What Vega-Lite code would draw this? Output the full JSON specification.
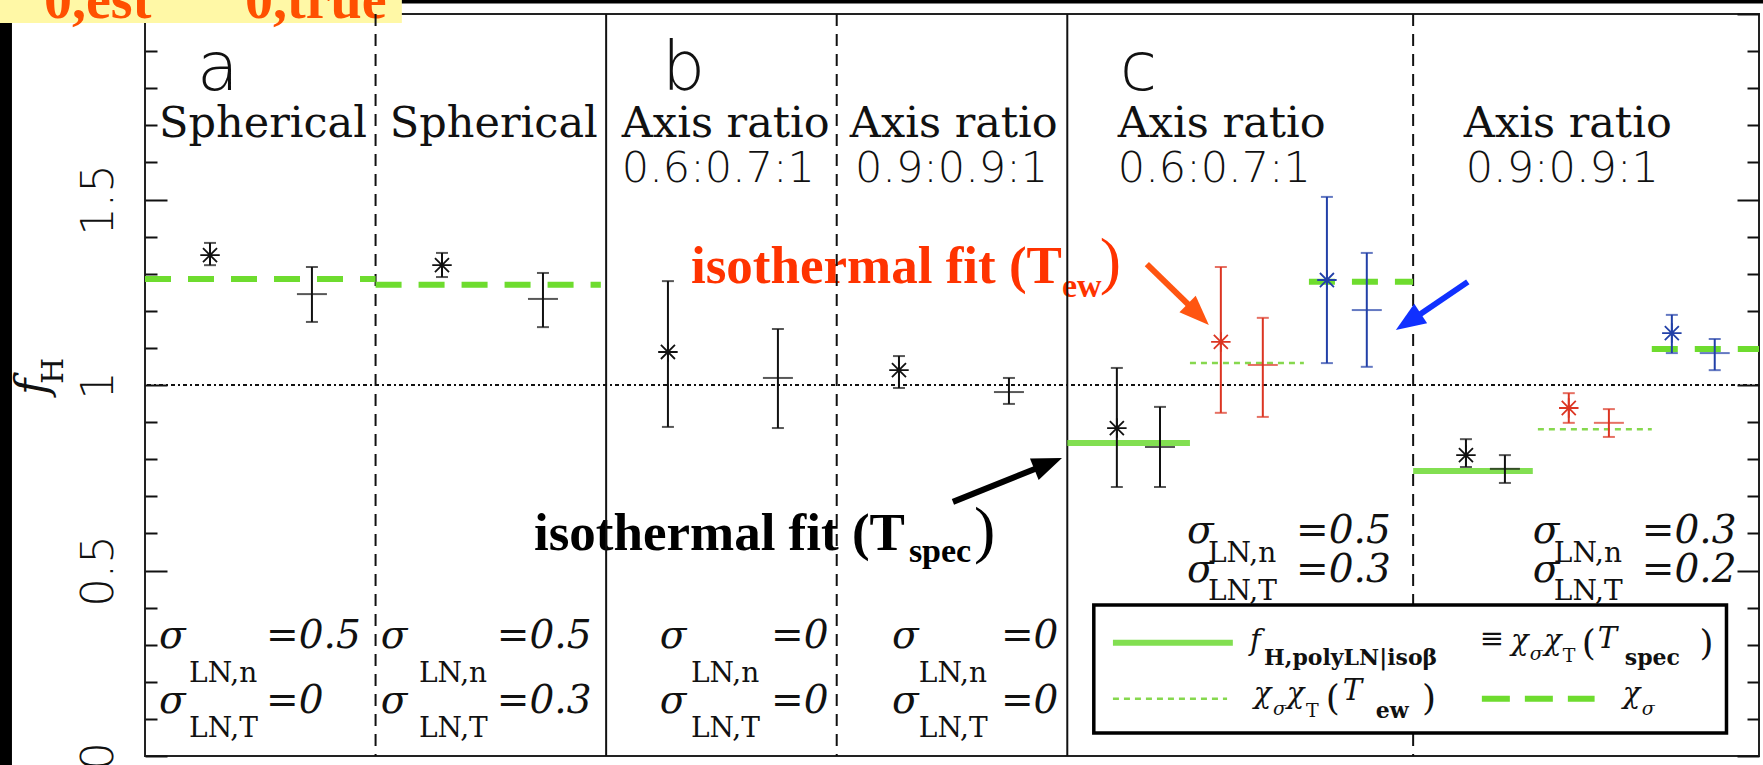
{
"$schema": "https://vega.github.io/schema/vega-lite/v6.json",
"width": 1614, "height": 742,
"autosize": {"type": "none"},
"padding": {"left": 145, "top": 14, "right": 4, "bottom": 9},
"background": "white",
"config": {"view": {"stroke": "#222222", "strokeWidth": 2}},
"datasets": {
"pts": [
{"x":0.282,"y":1.350,"lo":1.323,"hi":1.383,"kind":"asterisk","est":"Tspec"},
{"x":0.724,"y":1.245,"lo":1.170,"hi":1.318,"kind":"cross","est":"Tspec"},
{"x":1.288,"y":1.323,"lo":1.291,"hi":1.356,"kind":"asterisk","est":"Tspec"},
{"x":1.726,"y":1.232,"lo":1.156,"hi":1.302,"kind":"cross","est":"Tspec"},
{"x":2.268,"y":1.089,"lo":0.887,"hi":1.280,"kind":"asterisk","est":"Tspec"},
{"x":2.745,"y":1.019,"lo":0.884,"hi":1.151,"kind":"cross","est":"Tspec"},
{"x":3.270,"y":1.040,"lo":0.992,"hi":1.078,"kind":"asterisk","est":"Tspec"},
{"x":3.747,"y":0.981,"lo":0.949,"hi":1.019,"kind":"cross","est":"Tspec"},
{"x":4.215,"y":0.884,"lo":0.725,"hi":1.046,"kind":"asterisk","est":"Tspec"},
{"x":4.402,"y":0.833,"lo":0.725,"hi":0.941,"kind":"cross","est":"Tspec"},
{"x":4.666,"y":1.116,"lo":0.925,"hi":1.318,"kind":"asterisk","est":"Tew"},
{"x":4.848,"y":1.054,"lo":0.914,"hi":1.181,"kind":"cross","est":"Tew"},
{"x":5.126,"y":1.283,"lo":1.059,"hi":1.507,"kind":"asterisk","est":"chi"},
{"x":5.299,"y":1.202,"lo":1.049,"hi":1.356,"kind":"cross","est":"chi"},
{"x":5.729,"y":0.811,"lo":0.779,"hi":0.854,"kind":"asterisk","est":"Tspec"},
{"x":5.898,"y":0.774,"lo":0.736,"hi":0.811,"kind":"cross","est":"Tspec"},
{"x":6.175,"y":0.938,"lo":0.898,"hi":0.978,"kind":"asterisk","est":"Tew"},
{"x":6.349,"y":0.898,"lo":0.860,"hi":0.935,"kind":"cross","est":"Tew"},
{"x":6.622,"y":1.140,"lo":1.086,"hi":1.189,"kind":"asterisk","est":"chi"},
{"x":6.808,"y":1.086,"lo":1.040,"hi":1.124,"kind":"cross","est":"chi"}
],
"green": [
{"x":0,"x2":1,"y":1.286,"model":"sigma"},
{"x":1,"x2":1.977,"y":1.270,"model":"sigma"},
{"x":4.0,"x2":4.532,"y":0.844,"model":"polyLN"},
{"x":4.532,"x2":5.026,"y":1.059,"model":"ew"},
{"x":5.048,"x2":5.5,"y":1.278,"model":"sigma"},
{"x":5.5,"x2":6.019,"y":0.768,"model":"polyLN"},
{"x":6.041,"x2":6.535,"y":0.881,"model":"ew"},
{"x":6.535,"x2":7.0,"y":1.097,"model":"sigma"}
],
"greenleg": [
{"x":4.198,"x2":4.718,"y":0.305,"model":"polyLN"},
{"x":4.198,"x2":4.693,"y":0.154,"model":"ew"},
{"x":5.798,"x2":6.287,"y":0.154,"model":"sigma"}
],
"seps": [
{"x":1,"type":"dashed"},{"x":3,"type":"dashed"},{"x":5.5,"type":"dashed"},
{"x":2,"type":"solid"},{"x":4,"type":"solid"}
],
"ref": [{"y":1}],
"boxes": [
{"x":-0.629,"x2":1.114,"y":2.04,"y2":1.976,"what":"yellow"},
{"x":1.114,"x2":7.02,"y":2.04,"y2":2.028,"what":"black"},
{"x":-0.629,"x2":-0.577,"y":1.976,"y2":-0.03,"what":"black"}
],
"legbox": [{"x":4.115,"x2":6.859,"y":0.407,"y2":0.062}],
"arrows": [
{"who":"Tew","x":4.345,"y":1.326,"x2":4.540,"y2":1.208,"tx":4.614,"ty":1.162},
{"who":"chi","x":5.737,"y":1.278,"x2":5.512,"y2":1.183,"tx":5.425,"ty":1.148},
{"who":"Tspec","x":3.504,"y":0.685,"x2":3.881,"y2":0.779,"tx":3.977,"ty":0.803}
],
"txt": [
{"x":0.225,"y":1.795,"text":"a","role":"panel"},
{"x":2.242,"y":1.795,"text":"b","role":"panel"},
{"x":4.228,"y":1.795,"text":"c","role":"panel"},
{"x":0.061,"y":1.668,"text":"Spherical","role":"geom"},
{"x":1.062,"y":1.668,"text":"Spherical","role":"geom"},
{"x":2.068,"y":1.668,"text":"Axis ratio","role":"geom"},
{"x":3.057,"y":1.668,"text":"Axis ratio","role":"geom"},
{"x":4.219,"y":1.668,"text":"Axis ratio","role":"geom"},
{"x":5.720,"y":1.668,"text":"Axis ratio","role":"geom"},
{"x":2.068,"y":1.547,"text":"0.6:0.7:1","role":"ratio"},
{"x":3.079,"y":1.547,"text":"0.9:0.9:1","role":"ratio"},
{"x":4.219,"y":1.547,"text":"0.6:0.7:1","role":"ratio"},
{"x":5.728,"y":1.547,"text":"0.9:0.9:1","role":"ratio"},
{"x":0.061,"y":0.291,"text":"σ","role":"sig"},
{"x":0.525,"y":0.291,"text":"=0.5","role":"sig"},
{"x":0.061,"y":0.116,"text":"σ","role":"sig"},
{"x":0.525,"y":0.116,"text":"=0","role":"sig"},
{"x":1.023,"y":0.291,"text":"σ","role":"sig"},
{"x":1.526,"y":0.291,"text":"=0.5","role":"sig"},
{"x":1.023,"y":0.116,"text":"σ","role":"sig"},
{"x":1.526,"y":0.116,"text":"=0.3","role":"sig"},
{"x":2.233,"y":0.291,"text":"σ","role":"sig"},
{"x":2.715,"y":0.291,"text":"=0","role":"sig"},
{"x":2.233,"y":0.116,"text":"σ","role":"sig"},
{"x":2.715,"y":0.116,"text":"=0","role":"sig"},
{"x":3.240,"y":0.291,"text":"σ","role":"sig"},
{"x":3.712,"y":0.291,"text":"=0","role":"sig"},
{"x":3.240,"y":0.116,"text":"σ","role":"sig"},
{"x":3.712,"y":0.116,"text":"=0","role":"sig"},
{"x":4.519,"y":0.575,"text":"σ","role":"sig"},
{"x":4.992,"y":0.575,"text":"=0.5","role":"sig"},
{"x":4.519,"y":0.469,"text":"σ","role":"sig"},
{"x":4.992,"y":0.469,"text":"=0.3","role":"sig"},
{"x":6.019,"y":0.575,"text":"σ","role":"sig"},
{"x":6.492,"y":0.575,"text":"=0.3","role":"sig"},
{"x":6.019,"y":0.469,"text":"σ","role":"sig"},
{"x":6.492,"y":0.469,"text":"=0.2","role":"sig"},
{"x":0.191,"y":0.199,"text":"LN,n","role":"sigsub"},
{"x":0.191,"y":0.051,"text":"LN,T","role":"sigsub"},
{"x":1.188,"y":0.199,"text":"LN,n","role":"sigsub"},
{"x":1.188,"y":0.051,"text":"LN,T","role":"sigsub"},
{"x":2.368,"y":0.199,"text":"LN,n","role":"sigsub"},
{"x":2.368,"y":0.051,"text":"LN,T","role":"sigsub"},
{"x":3.356,"y":0.199,"text":"LN,n","role":"sigsub"},
{"x":3.356,"y":0.051,"text":"LN,T","role":"sigsub"},
{"x":4.610,"y":0.523,"text":"LN,n","role":"sigsub"},
{"x":4.610,"y":0.420,"text":"LN,T","role":"sigsub"},
{"x":6.110,"y":0.523,"text":"LN,n","role":"sigsub"},
{"x":6.110,"y":0.420,"text":"LN,T","role":"sigsub"},
{"x":-0.425,"y":0.995,"text":"f","role":"yt"},
{"x":-0.356,"y":1.038,"text":"H","role":"ytsub"},
{"x":-0.438,"y":1.989,"text":"0,est","role":"corner"},
{"x":0.434,"y":1.989,"text":"0,true","role":"corner"},
{"x":2.368,"y":1.275,"text":"isothermal fit (T","role":"annR"},
{"x":3.977,"y":1.237,"text":"ew","role":"annRsub"},
{"x":4.141,"y":1.278,"text":")","role":"annRp"},
{"x":1.687,"y":0.555,"text":"isothermal fit (T","role":"annK"},
{"x":3.313,"y":0.523,"text":"spec","role":"annKsub"},
{"x":3.595,"y":0.553,"text":")","role":"annKp"}
],
"legtxt": [
{"x":4.792,"y":0.286,"text":"f","role":"leg"},
{"x":4.853,"y":0.245,"text":"H,polyLN|isoβ","role":"legsubb"},
{"x":5.789,"y":0.291,"text":"≡","role":"legn"},
{"x":5.924,"y":0.286,"text":"χ","role":"leg"},
{"x":6.006,"y":0.259,"text":"σ","role":"legsub"},
{"x":6.067,"y":0.286,"text":"χ","role":"leg"},
{"x":6.149,"y":0.253,"text":"T","role":"legsubr"},
{"x":6.231,"y":0.272,"text":"(","role":"legp"},
{"x":6.301,"y":0.291,"text":"T","role":"leg"},
{"x":6.418,"y":0.245,"text":"spec","role":"legsubb"},
{"x":6.742,"y":0.272,"text":")","role":"legp"},
{"x":4.809,"y":0.143,"text":"χ","role":"leg"},
{"x":4.892,"y":0.111,"text":"σ","role":"legsub"},
{"x":4.952,"y":0.143,"text":"χ","role":"leg"},
{"x":5.035,"y":0.105,"text":"T","role":"legsubr"},
{"x":5.121,"y":0.124,"text":"(","role":"legp"},
{"x":5.195,"y":0.151,"text":"T","role":"leg"},
{"x":5.338,"y":0.102,"text":"ew","role":"legsubb"},
{"x":5.538,"y":0.124,"text":")","role":"legp"},
{"x":6.409,"y":0.143,"text":"χ","role":"leg"},
{"x":6.492,"y":0.111,"text":"σ","role":"legsub"}
]
},
"resolve": {"axis": {"y": "independent"}},
"layer": [
{"data": {"name": "boxes"}, "transform": [{"filter": "datum.what == 'yellow'"}],
 "mark": {"type": "rect", "color": "#FFF8A6"},
 "encoding": {"x": {"field": "x", "type": "quantitative", "scale": {"domain": [0, 7], "nice": false, "zero": false}, "axis": null}, "x2": {"field": "x2"},
  "y": {"field": "y", "type": "quantitative", "scale": {"domain": [0, 2], "nice": false, "zero": false}, "axis": null}, "y2": {"field": "y2"}}},
{"data": {"name": "boxes"}, "transform": [{"filter": "datum.what == 'black'"}],
 "mark": {"type": "rect", "color": "#000000"},
 "encoding": {"x": {"field": "x", "type": "quantitative", "scale": {"domain": [0, 7], "nice": false, "zero": false}, "axis": null}, "x2": {"field": "x2"},
  "y": {"field": "y", "type": "quantitative", "scale": {"domain": [0, 2], "nice": false, "zero": false}, "axis": null}, "y2": {"field": "y2"}}},
{"data": {"name": "txt"}, "transform": [{"filter": "datum.role == 'corner'"}],
 "mark": {"type": "text", "align": "left", "baseline": "alphabetic", "font": "Liberation Serif", "fontWeight": "bold", "fontSize": 56, "color": "#FF5000"},
 "encoding": {"x": {"field": "x", "type": "quantitative", "scale": {"domain": [0, 7], "nice": false, "zero": false}, "axis": null},
  "y": {"field": "y", "type": "quantitative", "scale": {"domain": [0, 2], "nice": false, "zero": false}, "axis": null}, "text": {"field": "text"}}},
{"data": {"name": "txt"}, "transform": [{"filter": "datum.role == 'annR'"}],
 "mark": {"type": "text", "align": "left", "baseline": "alphabetic", "font": "Liberation Serif", "fontWeight": "bold", "fontSize": 53, "color": "#FF3300"},
 "encoding": {"x": {"field": "x", "type": "quantitative", "scale": {"domain": [0, 7], "nice": false, "zero": false}, "axis": null},
  "y": {"field": "y", "type": "quantitative", "scale": {"domain": [0, 2], "nice": false, "zero": false}, "axis": null}, "text": {"field": "text"}}},
{"data": {"name": "txt"}, "transform": [{"filter": "datum.role == 'annRsub'"}],
 "mark": {"type": "text", "align": "left", "baseline": "alphabetic", "font": "Liberation Serif", "fontWeight": "bold", "fontSize": 34, "color": "#FF3300"},
 "encoding": {"x": {"field": "x", "type": "quantitative", "scale": {"domain": [0, 7], "nice": false, "zero": false}, "axis": null},
  "y": {"field": "y", "type": "quantitative", "scale": {"domain": [0, 2], "nice": false, "zero": false}, "axis": null}, "text": {"field": "text"}}},
{"data": {"name": "txt"}, "transform": [{"filter": "datum.role == 'annRp'"}],
 "mark": {"type": "text", "align": "left", "baseline": "alphabetic", "font": "Liberation Serif", "fontSize": 64, "color": "#FF3300"},
 "encoding": {"x": {"field": "x", "type": "quantitative", "scale": {"domain": [0, 7], "nice": false, "zero": false}, "axis": null},
  "y": {"field": "y", "type": "quantitative", "scale": {"domain": [0, 2], "nice": false, "zero": false}, "axis": null}, "text": {"field": "text"}}},
{"data": {"name": "txt"}, "transform": [{"filter": "datum.role == 'annK'"}],
 "mark": {"type": "text", "align": "left", "baseline": "alphabetic", "font": "Liberation Serif", "fontWeight": "bold", "fontSize": 53, "color": "#000000"},
 "encoding": {"x": {"field": "x", "type": "quantitative", "scale": {"domain": [0, 7], "nice": false, "zero": false}, "axis": null},
  "y": {"field": "y", "type": "quantitative", "scale": {"domain": [0, 2], "nice": false, "zero": false}, "axis": null}, "text": {"field": "text"}}},
{"data": {"name": "txt"}, "transform": [{"filter": "datum.role == 'annKsub'"}],
 "mark": {"type": "text", "align": "left", "baseline": "alphabetic", "font": "Liberation Serif", "fontWeight": "bold", "fontSize": 34, "color": "#000000"},
 "encoding": {"x": {"field": "x", "type": "quantitative", "scale": {"domain": [0, 7], "nice": false, "zero": false}, "axis": null},
  "y": {"field": "y", "type": "quantitative", "scale": {"domain": [0, 2], "nice": false, "zero": false}, "axis": null}, "text": {"field": "text"}}},
{"data": {"name": "txt"}, "transform": [{"filter": "datum.role == 'annKp'"}],
 "mark": {"type": "text", "align": "left", "baseline": "alphabetic", "font": "Liberation Serif", "fontSize": 64, "color": "#000000"},
 "encoding": {"x": {"field": "x", "type": "quantitative", "scale": {"domain": [0, 7], "nice": false, "zero": false}, "axis": null},
  "y": {"field": "y", "type": "quantitative", "scale": {"domain": [0, 2], "nice": false, "zero": false}, "axis": null}, "text": {"field": "text"}}},
{"data": {"name": "seps"}, "transform": [{"filter": "datum.type == 'solid'"}],
 "mark": {"type": "rule", "color": "#111111", "strokeWidth": 2},
 "encoding": {"x": {"field": "x", "type": "quantitative", "scale": {"domain": [0, 7], "nice": false, "zero": false}, "axis": null}}},
{"data": {"name": "seps"}, "transform": [{"filter": "datum.type == 'dashed'"}],
 "mark": {"type": "rule", "color": "#111111", "strokeWidth": 2, "strokeDash": [12, 8]},
 "encoding": {"x": {"field": "x", "type": "quantitative", "scale": {"domain": [0, 7], "nice": false, "zero": false}, "axis": null}}},
{"data": {"name": "ref"},
 "mark": {"type": "rule", "color": "#111111", "strokeWidth": 2, "strokeDash": [4, 3, 2, 3]},
 "encoding": {"y": {"field": "y", "type": "quantitative", "scale": {"domain": [0, 2], "nice": false, "zero": false},
  "axis": {"orient": "left", "title": null, "grid": false, "domain": false,
   "values": [0,0.1,0.2,0.3,0.4,0.5,0.6,0.7,0.8,0.9,1,1.1,1.2,1.3,1.4,1.5,1.6,1.7,1.8,1.9,2],
   "format": "~g",
   "labelExpr": "(datum.value == 0 || datum.value == 0.5 || datum.value == 1 || datum.value == 1.5) ? datum.label : ''",
   "tickSize": {"condition": {"test": "datum.value == 0 || datum.value == 0.5 || datum.value == 1 || datum.value == 1.5 || datum.value == 2", "value": -22}, "value": -12},
   "tickWidth": 2, "tickColor": "#111111",
   "labelAngle": -90, "labelAlign": "center", "labelBaseline": "alphabetic", "labelPadding": 55,
   "labelFont": "DejaVu Sans", "labelFontWeight": 300, "labelFontSize": 45, "labelColor": "#111111",
   "labelFlush": false, "labelOverlap": false, "labelBound": false}}}},
{"data": {"name": "green"}, "transform": [{"filter": "datum.model == 'polyLN'"}],
 "mark": {"type": "rule", "color": "#74DC3E", "strokeWidth": 6, "opacity": 0.9},
 "encoding": {"x": {"field": "x", "type": "quantitative", "scale": {"domain": [0, 7], "nice": false, "zero": false}, "axis": null}, "x2": {"field": "x2"},
  "y": {"field": "y", "type": "quantitative", "scale": {"domain": [0, 2], "nice": false, "zero": false}, "axis": null}}},
{"data": {"name": "green"}, "transform": [{"filter": "datum.model == 'ew'"}],
 "mark": {"type": "rule", "color": "#86D84E", "strokeWidth": 2.5, "strokeDash": [6, 5]},
 "encoding": {"x": {"field": "x", "type": "quantitative", "scale": {"domain": [0, 7], "nice": false, "zero": false}, "axis": null}, "x2": {"field": "x2"},
  "y": {"field": "y", "type": "quantitative", "scale": {"domain": [0, 2], "nice": false, "zero": false}, "axis": null}}},
{"data": {"name": "green"}, "transform": [{"filter": "datum.model == 'sigma'"}],
 "mark": {"type": "rule", "color": "#6EDC2E", "strokeWidth": 6, "strokeDash": [26, 17]},
 "encoding": {"x": {"field": "x", "type": "quantitative", "scale": {"domain": [0, 7], "nice": false, "zero": false}, "axis": null}, "x2": {"field": "x2"},
  "y": {"field": "y", "type": "quantitative", "scale": {"domain": [0, 2], "nice": false, "zero": false}, "axis": null}}},
{"data": {"name": "pts"},
 "mark": {"type": "rule", "strokeWidth": 2},
 "encoding": {"x": {"field": "x", "type": "quantitative", "scale": {"domain": [0, 7], "nice": false, "zero": false}, "axis": null},
  "y": {"field": "lo", "type": "quantitative", "scale": {"domain": [0, 2], "nice": false, "zero": false},
   "axis": {"orient": "right", "title": null, "grid": false, "domain": false, "labels": false,
    "values": [0,0.1,0.2,0.3,0.4,0.5,0.6,0.7,0.8,0.9,1,1.1,1.2,1.3,1.4,1.5,1.6,1.7,1.8,1.9,2],
    "tickSize": {"condition": {"test": "datum.value == 0 || datum.value == 0.5 || datum.value == 1 || datum.value == 1.5 || datum.value == 2", "value": -22}, "value": -12},
    "tickWidth": 2, "tickColor": "#111111"}},
  "y2": {"field": "hi"},
  "color": {"field": "est", "type": "nominal", "scale": {"domain": ["Tspec", "Tew", "chi"], "range": ["#111111", "#DC3522", "#2240A8"]}, "legend": null}}},
{"data": {"name": "pts"}, "transform": [{"fold": ["lo", "hi"], "as": ["end", "yv"]}],
 "mark": {"type": "tick", "orient": "horizontal", "size": 12, "thickness": 2},
 "encoding": {"x": {"field": "x", "type": "quantitative", "scale": {"domain": [0, 7], "nice": false, "zero": false}, "axis": null},
  "y": {"field": "yv", "type": "quantitative", "scale": {"domain": [0, 2], "nice": false, "zero": false}, "axis": null},
  "color": {"field": "est", "type": "nominal", "scale": {"domain": ["Tspec", "Tew", "chi"], "range": ["#111111", "#DC3522", "#2240A8"]}, "legend": null}}},
{"data": {"name": "pts"}, "transform": [{"filter": "datum.kind == 'cross'"}],
 "mark": {"type": "tick", "orient": "horizontal", "size": 30, "thickness": 2},
 "encoding": {"x": {"field": "x", "type": "quantitative", "scale": {"domain": [0, 7], "nice": false, "zero": false}, "axis": null},
  "y": {"field": "y", "type": "quantitative", "scale": {"domain": [0, 2], "nice": false, "zero": false}, "axis": null},
  "color": {"field": "est", "type": "nominal", "scale": {"domain": ["Tspec", "Tew", "chi"], "range": ["#111111", "#DC3522", "#2240A8"]}, "legend": null}}},
{"data": {"name": "pts"}, "transform": [{"filter": "datum.kind == 'asterisk'"}],
 "mark": {"type": "point", "shape": "M-1,0L1,0M-0.72,-0.72L0.72,0.72M-0.72,0.72L0.72,-0.72M0,-1L0,1", "size": 380, "strokeWidth": 1.8, "filled": false, "opacity": 1},
 "encoding": {"x": {"field": "x", "type": "quantitative", "scale": {"domain": [0, 7], "nice": false, "zero": false}, "axis": null},
  "y": {"field": "y", "type": "quantitative", "scale": {"domain": [0, 2], "nice": false, "zero": false}, "axis": null},
  "color": {"field": "est", "type": "nominal", "scale": {"domain": ["Tspec", "Tew", "chi"], "range": ["#111111", "#DC3522", "#2240A8"]}, "legend": null}}},
{"data": {"name": "txt"}, "transform": [{"filter": "datum.role == 'panel'"}],
 "mark": {"type": "text", "align": "left", "baseline": "alphabetic", "font": "DejaVu Sans", "fontWeight": 300, "fontSize": 68, "color": "#111111"},
 "encoding": {"x": {"field": "x", "type": "quantitative", "scale": {"domain": [0, 7], "nice": false, "zero": false}, "axis": null},
  "y": {"field": "y", "type": "quantitative", "scale": {"domain": [0, 2], "nice": false, "zero": false}, "axis": null}, "text": {"field": "text"}}},
{"data": {"name": "txt"}, "transform": [{"filter": "datum.role == 'geom'"}],
 "mark": {"type": "text", "align": "left", "baseline": "alphabetic", "font": "DejaVu Serif", "fontSize": 43, "color": "#111111"},
 "encoding": {"x": {"field": "x", "type": "quantitative", "scale": {"domain": [0, 7], "nice": false, "zero": false}, "axis": null},
  "y": {"field": "y", "type": "quantitative", "scale": {"domain": [0, 2], "nice": false, "zero": false}, "axis": null}, "text": {"field": "text"}}},
{"data": {"name": "txt"}, "transform": [{"filter": "datum.role == 'ratio'"}],
 "mark": {"type": "text", "align": "left", "baseline": "alphabetic", "font": "DejaVu Sans", "fontWeight": 300, "fontSize": 43, "color": "#111111"},
 "encoding": {"x": {"field": "x", "type": "quantitative", "scale": {"domain": [0, 7], "nice": false, "zero": false}, "axis": null},
  "y": {"field": "y", "type": "quantitative", "scale": {"domain": [0, 2], "nice": false, "zero": false}, "axis": null}, "text": {"field": "text"}}},
{"data": {"name": "txt"}, "transform": [{"filter": "datum.role == 'sig'"}],
 "mark": {"type": "text", "align": "left", "baseline": "alphabetic", "font": "DejaVu Serif", "fontStyle": "italic", "fontSize": 39, "color": "#111111"},
 "encoding": {"x": {"field": "x", "type": "quantitative", "scale": {"domain": [0, 7], "nice": false, "zero": false}, "axis": null},
  "y": {"field": "y", "type": "quantitative", "scale": {"domain": [0, 2], "nice": false, "zero": false}, "axis": null}, "text": {"field": "text"}}},
{"data": {"name": "txt"}, "transform": [{"filter": "datum.role == 'sigsub'"}],
 "mark": {"type": "text", "align": "left", "baseline": "alphabetic", "font": "DejaVu Serif", "fontSize": 28, "color": "#111111"},
 "encoding": {"x": {"field": "x", "type": "quantitative", "scale": {"domain": [0, 7], "nice": false, "zero": false}, "axis": null},
  "y": {"field": "y", "type": "quantitative", "scale": {"domain": [0, 2], "nice": false, "zero": false}, "axis": null}, "text": {"field": "text"}}},
{"data": {"name": "txt"}, "transform": [{"filter": "datum.role == 'yt'"}],
 "mark": {"type": "text", "align": "center", "baseline": "alphabetic", "angle": 270, "font": "DejaVu Serif", "fontStyle": "italic", "fontSize": 44, "color": "#111111"},
 "encoding": {"x": {"field": "x", "type": "quantitative", "scale": {"domain": [0, 7], "nice": false, "zero": false}, "axis": null},
  "y": {"field": "y", "type": "quantitative", "scale": {"domain": [0, 2], "nice": false, "zero": false}, "axis": null}, "text": {"field": "text"}}},
{"data": {"name": "txt"}, "transform": [{"filter": "datum.role == 'ytsub'"}],
 "mark": {"type": "text", "align": "center", "baseline": "alphabetic", "angle": 270, "font": "DejaVu Serif", "fontSize": 30, "color": "#111111"},
 "encoding": {"x": {"field": "x", "type": "quantitative", "scale": {"domain": [0, 7], "nice": false, "zero": false}, "axis": null},
  "y": {"field": "y", "type": "quantitative", "scale": {"domain": [0, 2], "nice": false, "zero": false}, "axis": null}, "text": {"field": "text"}}},
{"data": {"name": "legbox"},
 "mark": {"type": "rect", "fill": "white", "stroke": "#000000", "strokeWidth": 3.5},
 "encoding": {"x": {"field": "x", "type": "quantitative", "scale": {"domain": [0, 7], "nice": false, "zero": false}, "axis": null}, "x2": {"field": "x2"},
  "y": {"field": "y", "type": "quantitative", "scale": {"domain": [0, 2], "nice": false, "zero": false}, "axis": null}, "y2": {"field": "y2"}}},
{"data": {"name": "greenleg"}, "transform": [{"filter": "datum.model == 'polyLN'"}],
 "mark": {"type": "rule", "color": "#74DC3E", "strokeWidth": 6, "opacity": 0.9},
 "encoding": {"x": {"field": "x", "type": "quantitative", "scale": {"domain": [0, 7], "nice": false, "zero": false}, "axis": null}, "x2": {"field": "x2"},
  "y": {"field": "y", "type": "quantitative", "scale": {"domain": [0, 2], "nice": false, "zero": false}, "axis": null}}},
{"data": {"name": "greenleg"}, "transform": [{"filter": "datum.model == 'ew'"}],
 "mark": {"type": "rule", "color": "#86D84E", "strokeWidth": 2.5, "strokeDash": [6, 5]},
 "encoding": {"x": {"field": "x", "type": "quantitative", "scale": {"domain": [0, 7], "nice": false, "zero": false}, "axis": null}, "x2": {"field": "x2"},
  "y": {"field": "y", "type": "quantitative", "scale": {"domain": [0, 2], "nice": false, "zero": false}, "axis": null}}},
{"data": {"name": "greenleg"}, "transform": [{"filter": "datum.model == 'sigma'"}],
 "mark": {"type": "rule", "color": "#6EDC2E", "strokeWidth": 6, "strokeDash": [28, 15]},
 "encoding": {"x": {"field": "x", "type": "quantitative", "scale": {"domain": [0, 7], "nice": false, "zero": false}, "axis": null}, "x2": {"field": "x2"},
  "y": {"field": "y", "type": "quantitative", "scale": {"domain": [0, 2], "nice": false, "zero": false}, "axis": null}}},
{"data": {"name": "legtxt"}, "transform": [{"filter": "datum.role == 'leg'"}],
 "mark": {"type": "text", "align": "left", "baseline": "alphabetic", "font": "DejaVu Serif", "fontStyle": "italic", "fontSize": 29, "color": "#111111"},
 "encoding": {"x": {"field": "x", "type": "quantitative", "scale": {"domain": [0, 7], "nice": false, "zero": false}, "axis": null},
  "y": {"field": "y", "type": "quantitative", "scale": {"domain": [0, 2], "nice": false, "zero": false}, "axis": null}, "text": {"field": "text"}}},
{"data": {"name": "legtxt"}, "transform": [{"filter": "datum.role == 'legn'"}],
 "mark": {"type": "text", "align": "left", "baseline": "alphabetic", "font": "DejaVu Serif", "fontSize": 29, "color": "#111111"},
 "encoding": {"x": {"field": "x", "type": "quantitative", "scale": {"domain": [0, 7], "nice": false, "zero": false}, "axis": null},
  "y": {"field": "y", "type": "quantitative", "scale": {"domain": [0, 2], "nice": false, "zero": false}, "axis": null}, "text": {"field": "text"}}},
{"data": {"name": "legtxt"}, "transform": [{"filter": "datum.role == 'legp'"}],
 "mark": {"type": "text", "align": "left", "baseline": "alphabetic", "font": "DejaVu Serif", "fontSize": 36, "color": "#111111"},
 "encoding": {"x": {"field": "x", "type": "quantitative", "scale": {"domain": [0, 7], "nice": false, "zero": false}, "axis": null},
  "y": {"field": "y", "type": "quantitative", "scale": {"domain": [0, 2], "nice": false, "zero": false}, "axis": null}, "text": {"field": "text"}}},
{"data": {"name": "legtxt"}, "transform": [{"filter": "datum.role == 'legsub'"}],
 "mark": {"type": "text", "align": "left", "baseline": "alphabetic", "font": "DejaVu Serif", "fontStyle": "italic", "fontSize": 19, "color": "#111111"},
 "encoding": {"x": {"field": "x", "type": "quantitative", "scale": {"domain": [0, 7], "nice": false, "zero": false}, "axis": null},
  "y": {"field": "y", "type": "quantitative", "scale": {"domain": [0, 2], "nice": false, "zero": false}, "axis": null}, "text": {"field": "text"}}},
{"data": {"name": "legtxt"}, "transform": [{"filter": "datum.role == 'legsubr'"}],
 "mark": {"type": "text", "align": "left", "baseline": "alphabetic", "font": "DejaVu Serif", "fontSize": 19, "color": "#111111"},
 "encoding": {"x": {"field": "x", "type": "quantitative", "scale": {"domain": [0, 7], "nice": false, "zero": false}, "axis": null},
  "y": {"field": "y", "type": "quantitative", "scale": {"domain": [0, 2], "nice": false, "zero": false}, "axis": null}, "text": {"field": "text"}}},
{"data": {"name": "legtxt"}, "transform": [{"filter": "datum.role == 'legsubb'"}],
 "mark": {"type": "text", "align": "left", "baseline": "alphabetic", "font": "DejaVu Serif", "fontWeight": "bold", "fontSize": 22, "color": "#111111"},
 "encoding": {"x": {"field": "x", "type": "quantitative", "scale": {"domain": [0, 7], "nice": false, "zero": false}, "axis": null},
  "y": {"field": "y", "type": "quantitative", "scale": {"domain": [0, 2], "nice": false, "zero": false}, "axis": null}, "text": {"field": "text"}}},
{"data": {"name": "arrows"},
 "mark": {"type": "rule", "strokeWidth": 6},
 "encoding": {"x": {"field": "x", "type": "quantitative", "scale": {"domain": [0, 7], "nice": false, "zero": false}, "axis": null}, "x2": {"field": "x2"},
  "y": {"field": "y", "type": "quantitative", "scale": {"domain": [0, 2], "nice": false, "zero": false}, "axis": null}, "y2": {"field": "y2"},
  "stroke": {"field": "who", "type": "nominal", "scale": {"domain": ["Tspec", "Tew", "chi"], "range": ["#000000", "#FF5511", "#1030FF"]}, "legend": null}}},
{"data": {"name": "arrows"}, "transform": [{"filter": "datum.who == 'Tew'"}],
 "mark": {"type": "point", "shape": "M0,0L0.7,1.8L-0.7,1.8Z", "size": 1100, "filled": true, "opacity": 1, "angle": 134.5, "color": "#FF5511"},
 "encoding": {"x": {"field": "tx", "type": "quantitative", "scale": {"domain": [0, 7], "nice": false, "zero": false}, "axis": null},
  "y": {"field": "ty", "type": "quantitative", "scale": {"domain": [0, 2], "nice": false, "zero": false}, "axis": null}}},
{"data": {"name": "arrows"}, "transform": [{"filter": "datum.who == 'chi'"}],
 "mark": {"type": "point", "shape": "M0,0L0.7,1.8L-0.7,1.8Z", "size": 1100, "filled": true, "opacity": 1, "angle": 236.3, "color": "#1030FF"},
 "encoding": {"x": {"field": "tx", "type": "quantitative", "scale": {"domain": [0, 7], "nice": false, "zero": false}, "axis": null},
  "y": {"field": "ty", "type": "quantitative", "scale": {"domain": [0, 2], "nice": false, "zero": false}, "axis": null}}},
{"data": {"name": "arrows"}, "transform": [{"filter": "datum.who == 'Tspec'"}],
 "mark": {"type": "point", "shape": "M0,0L0.7,1.8L-0.7,1.8Z", "size": 1100, "filled": true, "opacity": 1, "angle": 68, "color": "#000000"},
 "encoding": {"x": {"field": "tx", "type": "quantitative", "scale": {"domain": [0, 7], "nice": false, "zero": false}, "axis": null},
  "y": {"field": "ty", "type": "quantitative", "scale": {"domain": [0, 2], "nice": false, "zero": false}, "axis": null}}}
]
}
